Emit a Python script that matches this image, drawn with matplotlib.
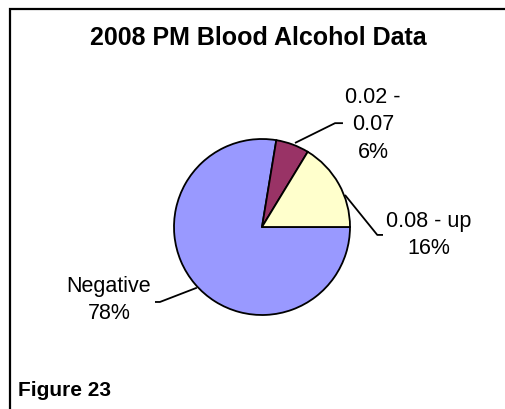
import matplotlib
matplotlib.use("Agg")
import matplotlib.pyplot as plt
from matplotlib.lines import Line2D

categories = ["Negative", "0.02 -\n0.07", "0.08 - up"]
values = [77.6, 6.1, 16.3]
colors = ["#9999FF", "#993366", "#FFFFCC"]
title = "2008 PM Blood Alcohol Data"
footer = "Figure 23"

W, H, DPI = 506, 409, 100
fig = plt.figure(figsize=(W / DPI, H / DPI), dpi=DPI)
fig.patch.set_facecolor("white")

# pie axes placed in pixel layout: center (262, 227), radius 88
cx, cy, r = 262, 227, 88
ax = fig.add_axes([(cx - r) / W, (H - cy - r) / H, 2 * r / W, 2 * r / H])
ax.set_xlim(-1, 1)
ax.set_ylim(-1, 1)
ax.set_aspect("equal")
ax.axis("off")

ax.pie(values, colors=colors, startangle=0, counterclock=False, radius=1,
       wedgeprops=dict(edgecolor="black", linewidth=1.3), frame=False)
ax.set_xlim(-1, 1)
ax.set_ylim(-1, 1)

total = sum(values)
pct = [f"{round(v / total * 100):.0f}%" for v in values]

font = "Liberation Sans"
# label positions (data units of pie axes) and leader lines
label_pos = [(-1.74, -0.83), (1.26, 1.16), (1.89, -0.09)]
leaders = [
    [(-1.216, -0.852), (-1.16, -0.852), (-0.74, -0.69)],
    [(0.375, 0.955), (0.83, 1.18), (0.92, 1.18)],
    [(0.943, 0.364), (1.31, -0.09), (1.375, -0.09)],
]
for cat, p, pos, ld in zip(categories, pct, label_pos, leaders):
    ax.text(pos[0], pos[1], f"{cat}\n{p}", ha="center", va="center",
            fontsize=15.5, family=font, linespacing=1.4, clip_on=False)
    xs, ys = zip(*ld)
    ax.plot(xs, ys, color="black", lw=1.3, clip_on=False, solid_capstyle="butt")

fig.text(258 / W, 1 - 38 / H, title, ha="center", va="center",
         fontsize=18, fontweight="bold", family=font)
fig.text(18 / W, 1 - 390 / H, footer, ha="left", va="center",
         fontsize=15, fontweight="bold", family=font)

# outer frame (only top and left visible)
fig.add_artist(Line2D([10 / W, 10 / W, 1.0], [0.0, 1 - 9 / H, 1 - 9 / H],
                      transform=fig.transFigure, color="black", lw=1.6,
                      solid_joinstyle="miter"))

fig.savefig("out.png", dpi=DPI, facecolor="white")
